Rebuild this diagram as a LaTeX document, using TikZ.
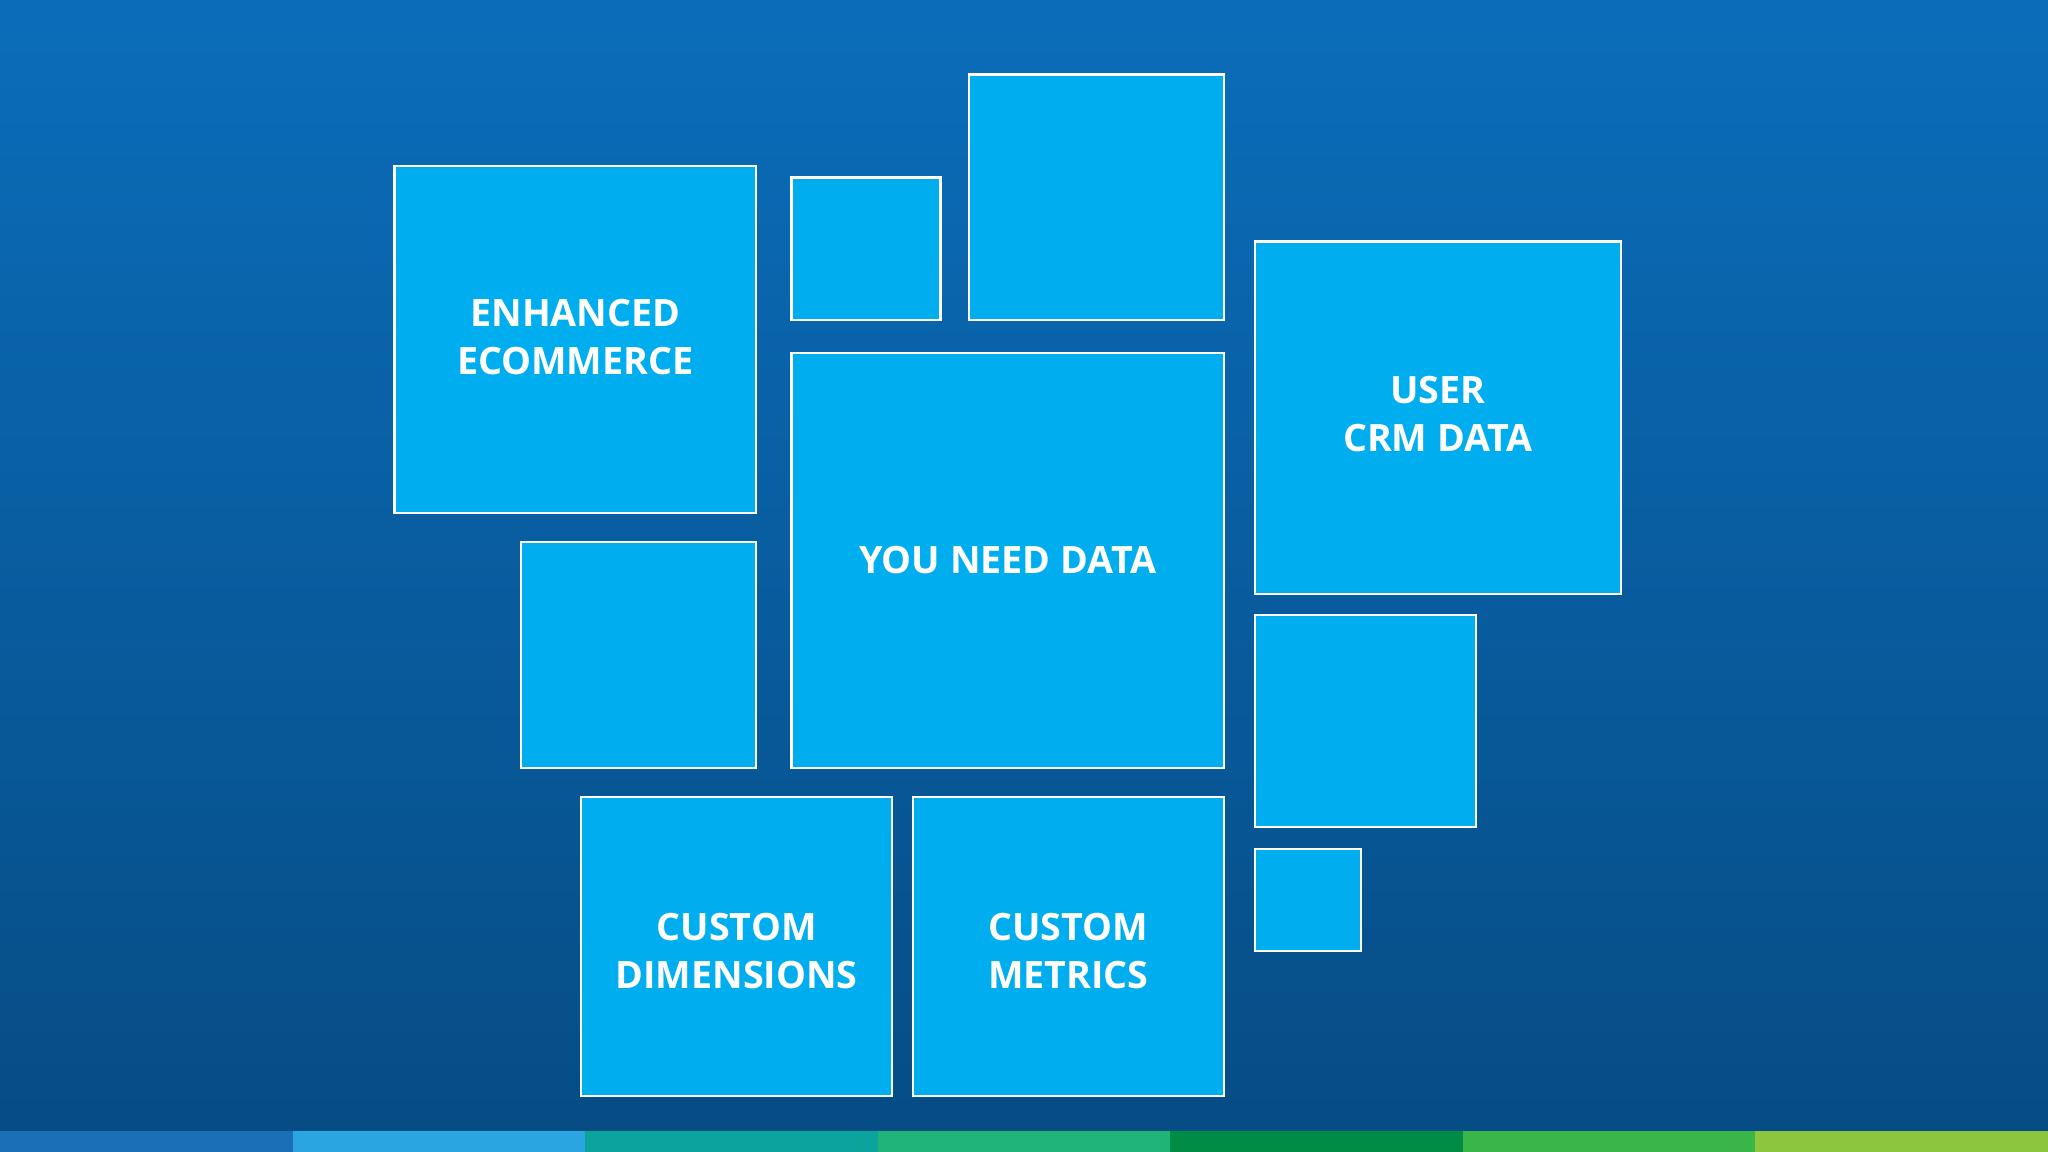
\documentclass[tikz,border=0pt]{standalone}
\usepackage{fontspec}
\setmainfont{Open Sans}
\definecolor{bgA}{HTML}{0B6DBA}
\definecolor{bgB}{HTML}{064C84}
\definecolor{boxc}{HTML}{00AEEF}
\definecolor{s1}{HTML}{1B6FB6}
\definecolor{s2}{HTML}{2AA5E2}
\definecolor{s3}{HTML}{0BA39B}
\definecolor{s4}{HTML}{20B478}
\definecolor{s5}{HTML}{008C45}
\definecolor{s6}{HTML}{3AB54A}
\definecolor{s7}{HTML}{8CC63F}
\begin{document}
\begin{tikzpicture}[x=0.01cm,y=-0.01cm,
  tile/.style={draw=white,line width=0.5pt,fill=boxc},
  lbl/.style={text=white,font=\bfseries\fontsize{8.2}{10.5}\selectfont,align=center}]
\shade[left color=bgA,right color=bgB,shading angle=0] (0,0) rectangle (1568,882);
\fill[bgA,opacity=0.35] (0,0) rectangle (1568,1);
\useasboundingbox (0,0) rectangle (1568,882);
\draw[tile] (302,127) rectangle (579,393);
\node[lbl] (ee) at (440.5,258) {ENHANCED\\ECOMMERCE};
\draw[tile] (606,136) rectangle (720,245);
\draw[tile] (742,57) rectangle (937,245);
\draw[tile] (606,270) rectangle (937,588);
\node[lbl] (yn) at (771.5,429) {YOU NEED DATA};
\draw[tile] (961,185) rectangle (1241,455);
\node[lbl] (uc) at (1101,317) {USER\\CRM DATA};
\draw[tile] (399,415) rectangle (579,588);
\draw[tile] (961,471) rectangle (1130,633);
\draw[tile] (961,650) rectangle (1042,728);
\draw[tile] (445,610) rectangle (683,839);
\node[lbl] (cd) at (564,728) {CUSTOM\\DIMENSIONS};
\draw[tile] (699,610) rectangle (937,839);
\node[lbl] (cm) at (818,728) {CUSTOM\\METRICS};
\foreach \c [count=\i from 0] in {s1,s2,s3,s4,s5,s6,s7}
  \fill[\c] (\i*224,866) rectangle ({(\i+1)*224},882);
\end{tikzpicture}
\end{document}
